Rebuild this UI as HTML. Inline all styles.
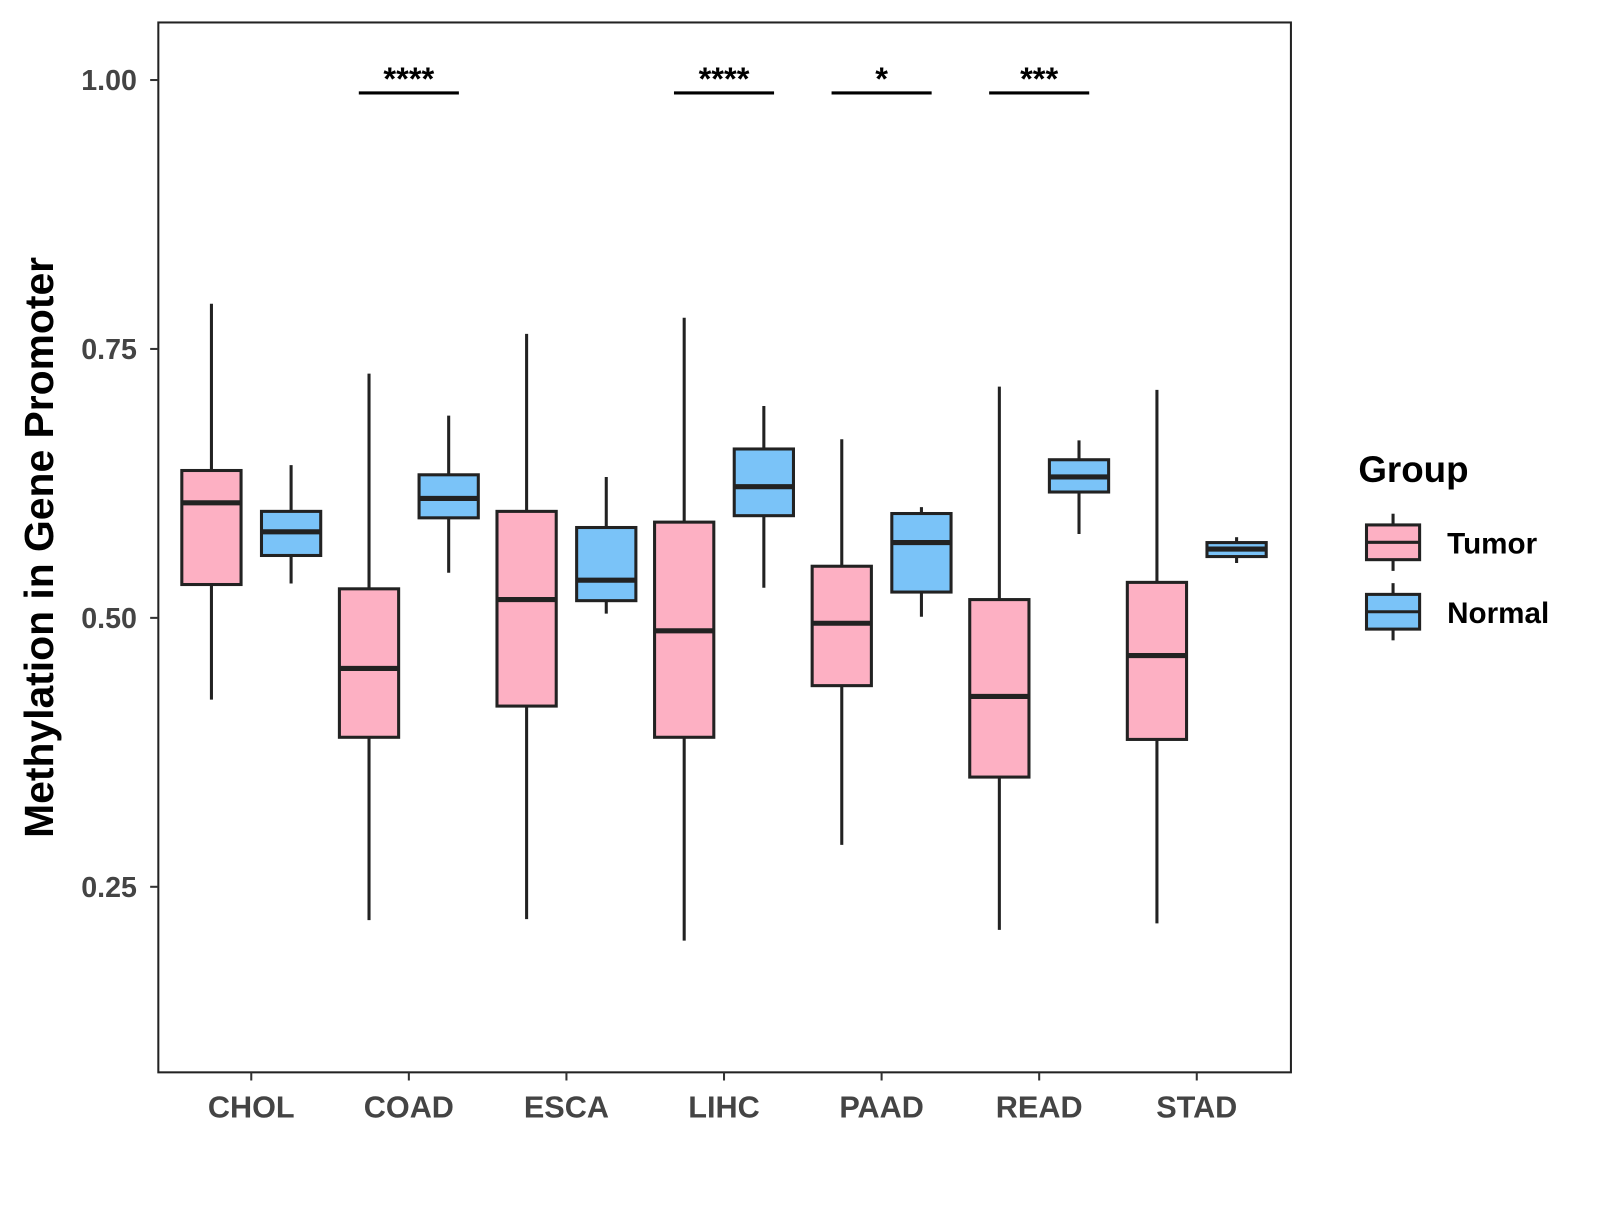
<!DOCTYPE html>
<html><head><meta charset="utf-8"><style>
body{margin:0;background:#fff;width:1600px;height:1200px;overflow:hidden}
svg text{font-family:"Liberation Sans",Arial,sans-serif;font-weight:bold}
</style></head><body>
<svg id="chart" width="1600" height="1200" viewBox="0 0 1566.6 1175" xmlns="http://www.w3.org/2000/svg">
<rect x="155" y="22" width="1109" height="1028" fill="#fff" stroke="#222" stroke-width="2"/>
<g id="marks"></g>
<text x="0" y="0" transform="translate(52,536) rotate(-90)" text-anchor="middle" font-size="40" fill="#000">Methylation in Gene Promoter</text>
<text x="1330" y="472" font-size="36" fill="#000">Group</text>
<g>
<line x1="1364" y1="503" x2="1364" y2="559" stroke="#222" stroke-width="3"/>
<rect x="1338" y="514" width="52" height="34" fill="#fdb0c3" stroke="#222" stroke-width="3"/>
<line x1="1338" y1="531" x2="1390" y2="531" stroke="#222" stroke-width="3"/>
<text x="1417" y="542" font-size="29" fill="#000">Tumor</text></g>
<g>
<line x1="1364" y1="571" x2="1364" y2="627" stroke="#222" stroke-width="3"/>
<rect x="1338" y="582" width="52" height="34" fill="#7ac3f8" stroke="#222" stroke-width="3"/>
<line x1="1338" y1="599" x2="1390" y2="599" stroke="#222" stroke-width="3"/>
<text x="1417" y="610" font-size="29" fill="#000">Normal</text></g>
</svg>
<script>
const categories=["CHOL","COAD","ESCA","LIHC","PAAD","READ","STAD"];
const tumorLow=[0.424,0.219,0.220,0.200,0.289,0.210,0.216];
const tumorQ1=[0.531,0.389,0.418,0.389,0.437,0.352,0.387];
const tumorMed=[0.607,0.453,0.517,0.488,0.495,0.427,0.465];
const tumorQ3=[0.637,0.527,0.599,0.589,0.548,0.517,0.533];
const tumorHigh=[0.792,0.727,0.764,0.779,0.666,0.715,0.712];
const normalLow=[0.532,0.542,0.504,0.528,0.501,0.578,0.551];
const normalQ1=[0.558,0.593,0.516,0.595,0.524,0.617,0.557];
const normalMed=[0.580,0.611,0.535,0.622,0.570,0.631,0.564];
const normalQ3=[0.599,0.633,0.584,0.657,0.597,0.647,0.570];
const normalHigh=[0.642,0.688,0.631,0.697,0.603,0.665,0.575];
const signif=["","****","","****","*","***",""];
const yTicks=[0.25,0.5,0.75,1.0];
const yTickLabels=["0.25","0.50","0.75","1.00"];
const NS="http://www.w3.org/2000/svg";
const g=document.getElementById('marks');
function yS(v){return 605-(v-0.5)*1053.3;}
function xS(i){return 246+i*154.3;}
function mk(t,a){const e=document.createElementNS(NS,t);for(const k in a)e.setAttribute(k,a[k]);g.appendChild(e);return e;}
yTicks.forEach((v,i)=>{
 const t=mk('line',{x1:147,x2:155,y1:yS(v),y2:yS(v),stroke:'#333','stroke-width':2});
 
 
 const l=mk('text',{x:134,y:yS(v)+10,'text-anchor':'end','font-size':28,fill:'#444'});
 l.textContent=yTickLabels[i];
 
 
});
function box(cx,lo,q1,md,q3,hi,fill,name){
 const w=mk('line',{x1:cx,x2:cx,y1:yS(hi),y2:yS(lo),stroke:'#222','stroke-width':3});
 
 
 const r=mk('rect',{x:cx-29,y:yS(q3),width:58,height:yS(q1)-yS(q3),fill:fill,stroke:'#222','stroke-width':3});
 
 
 const m=mk('line',{x1:cx-29,x2:cx+29,y1:yS(md),y2:yS(md),stroke:'#222','stroke-width':5});
 
 
}
categories.forEach((c,i)=>{
 const cx=xS(i);
 box(cx-39,tumorLow[i],tumorQ1[i],tumorMed[i],tumorQ3[i],tumorHigh[i],'#fdb0c3',c.toLowerCase()+'-tumor');
 box(cx+39,normalLow[i],normalQ1[i],normalMed[i],normalQ3[i],normalHigh[i],'#7ac3f8',c.toLowerCase()+'-normal');
 const t=mk('line',{x1:cx,x2:cx,y1:1050,y2:1058,stroke:'#333','stroke-width':2});
 
 
 const l=mk('text',{x:cx,y:1094,'text-anchor':'middle','font-size':30,fill:'#444'});
 l.textContent=c;
 
 
 if(signif[i]){
  const b=mk('line',{x1:cx-49,x2:cx+49,y1:91,y2:91,stroke:'#000','stroke-width':3});
  
  
  const s=mk('text',{x:cx,y:88,'text-anchor':'middle','font-size':32,fill:'#000'});
  s.textContent=signif[i];
  
  
 }
});
</script>
</body></html>
